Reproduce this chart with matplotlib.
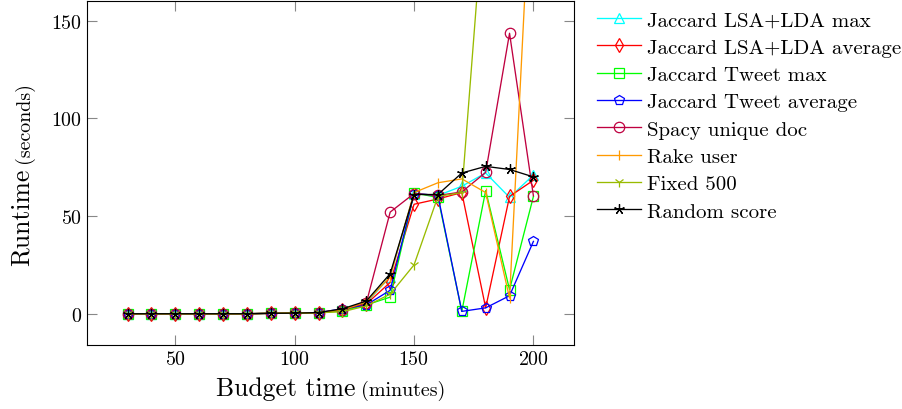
import numpy as np
import matplotlib
matplotlib.use("Agg")
import matplotlib.pyplot as plt

plt.rcParams['font.family'] = 'serif'
plt.rcParams['font.serif'] = ['cmr10', 'DejaVu Serif']
plt.rcParams['mathtext.fontset'] = 'cm'
plt.rcParams['axes.formatter.use_mathtext'] = True

nan = np.nan

# budget time (minutes)
budget = [30, 40, 50, 60, 70, 80, 90, 100, 110, 120, 130, 140, 150, 160, 170, 180, 190, 200]

# runtime (seconds) per method
lsa_max = [0, 0, 0, 0, 0, 0, 0.2, 0.3, 0.6, 1.8, 5.5, 19, 61.5, 60.5, 65.2, 72, 59.5, 71]
lsa_avg = [0, 0, 0, 0, 0, 0, 0.2, 0.3, 0.6, 1.8, 5, 16, 56, 58.7, 62, 3, 60, 68.3]
tweet_max = [0, 0, 0, 0, 0, 0, 0.2, 0.3, 0.5, 1.5, 4.5, 8.5, 61.8, 59.5, 1.2, 63, 12.3, 60]
tweet_avg = [0, 0, 0, 0, 0, 0, 0.2, 0.3, 0.6, 2.5, 4.5, 12, 61.5, 60.5, 1.2, 3, 9.2, 37]
spacy = [0, 0, 0, 0, 0, 0, 0.2, 0.3, 0.6, 2, 5.5, 52, 61.5, 60.5, 62.3, 72.3, 143.5, 60.3]
rake = [0, 0, 0, 0, 0, 0, 0.2, 0.3, 0.6, 2, 6, 19, 62, 67, 69, 62, 8, 250]
fixed500 = [0, 0, 0, 0, 0, 0, 0.2, 0.3, 0.5, 1, 4, 10, 25, 60, 62, 220, nan, nan]
random_score = [0, 0, 0, 0, 0, 0, 0.2, 0.3, 0.6, 2.5, 6.5, 20.5, 61, 61, 72, 75.4, 73.8, 70]

series = [
    ("Jaccard LSA+LDA max", lsa_max, "cyan", "^"),
    ("Jaccard LSA+LDA average", lsa_avg, "red", "d"),
    ("Jaccard Tweet max", tweet_max, "#00ff00", "s"),
    ("Jaccard Tweet average", tweet_avg, "blue", "p"),
    ("Spacy unique doc", spacy, "#bf0040", "o"),
    ("Rake user", rake, "#ff9a00", "|"),
    ("Fixed 500", fixed500, "#99bb00", "1"),
    ("Random score", random_score, "black", (5, 2, 0)),
]

fig = plt.figure(figsize=(9.02, 4.10), dpi=100)
ax = fig.add_axes([87 / 902, 1 - 346 / 410, (574 - 87) / 902, 344 / 410])

for label, vals, col, mk in series:
    ax.plot(budget, vals, color=col, marker=mk, markersize=7.5, markerfacecolor='none',
            markeredgecolor=col, lw=0.95, mew=0.9, label=label)

ax.set_xlim(13, 217)
ax.set_ylim(-16, 160)
ax.set_xticks([50, 100, 150, 200])
ax.set_yticks([0, 50, 100, 150])
ax.tick_params(direction='in', length=7, width=0.8, color='#888888', labelsize=14.4,
               top=True, right=True)
for s in ax.spines.values():
    s.set_linewidth(0.8)

ax.legend(loc='upper left', bbox_to_anchor=((597 - 87) / 487, 0.972), frameon=False,
          fontsize=15, handlelength=2.1, handletextpad=0.3, labelspacing=0.42,
          borderpad=0, borderaxespad=0)

# axis labels with smaller unit part
fig.canvas.draw()
r = fig.canvas.get_renderer()
tx1 = fig.text(0, 0, "Budget time", fontsize=18.5, ha='left', va='baseline')
tx2 = fig.text(0, 0, "(minutes)", fontsize=14.4, ha='left', va='baseline')
w1 = tx1.get_window_extent(r).width
w2 = tx2.get_window_extent(r).width
gap = 5
cx = (87 + 574) / 2
x0 = cx - (w1 + gap + w2) / 2
tx1.set_position((x0 / 902, 1 - 396 / 410))
tx2.set_position(((x0 + w1 + gap) / 902, 1 - 396 / 410))

ty1 = fig.text(0, 0, "Runtime", fontsize=18.5, rotation=90, rotation_mode='anchor',
               ha='left', va='baseline')
ty2 = fig.text(0, 0, "(seconds)", fontsize=14.4, rotation=90, rotation_mode='anchor',
               ha='left', va='baseline')
h1 = ty1.get_window_extent(r).height
h2 = ty2.get_window_extent(r).height
cy = 410 - 174
y0 = cy - (h1 + gap + h2) / 2
ty1.set_position((29 / 902, y0 / 410))
ty2.set_position((29 / 902, (y0 + h1 + gap) / 410))

fig.savefig("out.png", dpi=100)
